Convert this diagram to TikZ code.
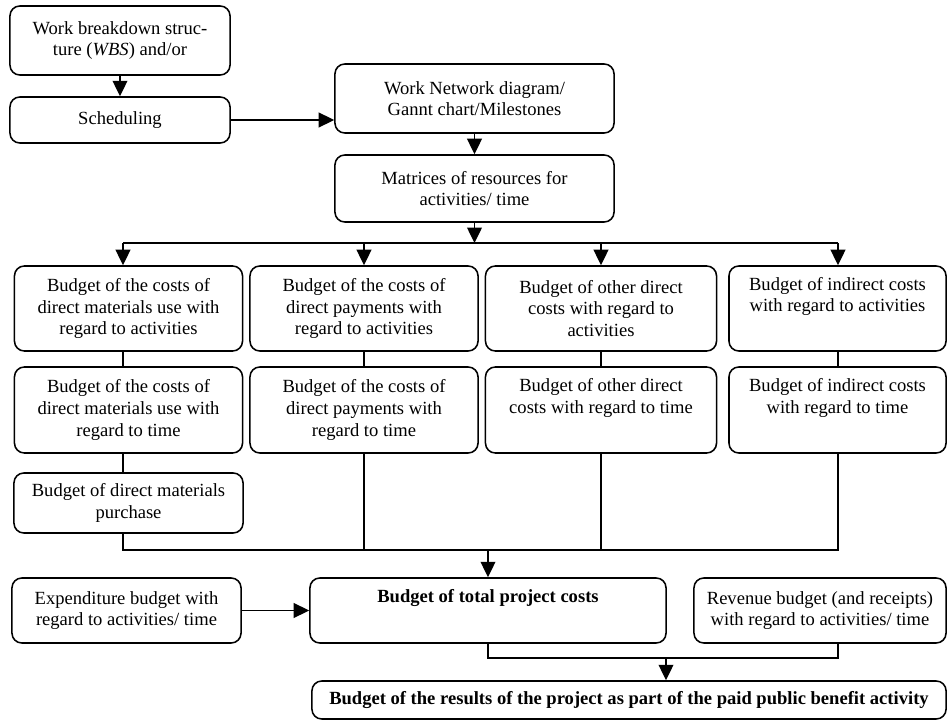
\documentclass[tikz,border=0pt]{standalone}
\usepackage{fontspec}
\setmainfont{Liberation Serif}
\usetikzlibrary{arrows.meta,positioning}
\tikzset{
  bbox/.style={draw, line width=1.1pt, rounded corners=7pt, align=center,
               inner sep=2pt, font=\fontsize{13.2}{15.4}\selectfont},
  topbox/.style={bbox, minimum width=5.5cm},
  midbox/.style={bbox, minimum width=6.975cm},
  rowa/.style={bbox, minimum height=2.125cm},
  rowb/.style={bbox, minimum height=2.15cm},
  lowbox/.style={bbox, minimum height=1.625cm},
  flow/.style={-{Triangle[length=11pt,width=10.5pt]}, line width=1.1pt},
  link/.style={line width=1.1pt},
}

\begin{document}
\begin{tikzpicture}[x=0.025cm, y=-0.025cm]
  \useasboundingbox (0,0) rectangle (948,722);

  % ---- planning ------------------------------------------------------------
  \node[topbox, minimum height=1.725cm] (wbs) at (120,40.5)
    {Work breakdown struc-\\ture (\textit{WBS}) and/or};
  \node[topbox, minimum height=1.15cm] (sched) at (120,120) {Scheduling};
  \node[midbox, minimum height=1.725cm] (net) at (474.5,98.5)
    {Work Network diagram/\\Gannt chart/Milestones};
  \node[midbox, minimum height=1.675cm] (matr) at (474.5,188.5)
    {Matrices of resources for\\activities/ time};

  \draw[flow] (wbs.south) -- (sched.north);
  \draw[flow] (sched.east) -- (sched.east -| net.west);
  \draw[flow] (net.south) -- (matr.north);

  % ---- cost budgets ----------------------------------------------------------
  \node[rowa, minimum width=5.7cm] (c1a) at (128.5,308.5)
    {Budget of the costs of\\direct materials use with\\regard to activities};
  \node[rowa, minimum width=5.7cm] (c2a) at (364,308.5)
    {Budget of the costs of\\direct payments with\\regard to activities};
  \node[rowa, minimum width=5.775cm] (c3a) at (601,308.5)
    {Budget of other direct\\costs with regard to\\activities};
  \node[rowa, minimum width=5.425cm] (c4a) at (837.5,308.5)
    {Budget of indirect costs\\with regard to activities\\\strut};

  \node[rowb, minimum width=5.7cm] (c1b) at (128.5,410)
    {Budget of the costs of\\direct materials use with\\regard to time};
  \node[rowb, minimum width=5.7cm] (c2b) at (364,410)
    {Budget of the costs of\\direct payments with\\regard to time};
  \node[rowb, minimum width=5.775cm] (c3b) at (601,410)
    {Budget of other direct\\costs with regard to time\\\strut};
  \node[rowb, minimum width=5.425cm] (c4b) at (837.5,410)
    {Budget of indirect costs\\with regard to time\\\strut};

  \node[bbox, minimum width=5.725cm, minimum height=1.5cm] (c1c) at (128.5,503)
    {Budget of direct materials\\purchase};

  \coordinate (busL) at (123,243);
  \coordinate (busR) at (838,243);
  \coordinate (mrgL) at (123,550);

  \draw[flow] (matr.south) -- (matr.south |- busL);
  \draw[link] (busL) -- (busR);
  \draw[flow] (busL) -- (busL |- c1a.north);
  \draw[flow] (c2a.north |- busL) -- (c2a.north);
  \draw[flow] (c3a.north |- busL) -- (c3a.north);
  \draw[flow] (busR) -- (busR |- c4a.north);

  \draw[link] (c1a.south -| busL) -- (c1b.north -| busL);
  \draw[link] (c1b.south -| busL) -- (c1c.north -| busL);
  \draw[link] (c2a.south) -- (c2b.north);
  \draw[link] (c3a.south) -- (c3b.north);
  \draw[link] (c4a.south -| busR) -- (c4b.north -| busR);

  \draw[link] (c1c.south -| busL) -- (mrgL) -- (mrgL -| busR) -- (c4b.south -| busR);
  \draw[link] (c2b.south) -- (c2b.south |- mrgL);
  \draw[link] (c3b.south) -- (c3b.south |- mrgL);

  % ---- totals ----------------------------------------------------------------
  \node[lowbox, minimum width=5.725cm] (exp) at (126.5,610.5)
    {Expenditure budget with\\regard to activities/ time};
  \node[lowbox, minimum width=8.9cm] (total) at (488,610.5)
    {\textbf{Budget of total project costs}\\\strut};
  \node[lowbox, minimum width=6.3cm] (rev) at (820,610.5)
    {Revenue budget (and receipts)\\with regard to activities/ time};
  \node[bbox, minimum width=15.85cm, minimum height=0.95cm] (final) at (629,700)
    {\textbf{Budget of the results of the project as part of the paid public benefit activity}};

  \coordinate (jn) at (666,658);

  \draw[flow] (total.north |- mrgL) -- (total.north);
  \draw[flow] (exp.east) -- (total.west);
  \draw[link] (total.south) -- (total.south |- jn) -- (jn -| busR) -- (rev.south -| busR);
  \draw[flow] (jn) -- (jn |- final.north);
\end{tikzpicture}
\end{document}
